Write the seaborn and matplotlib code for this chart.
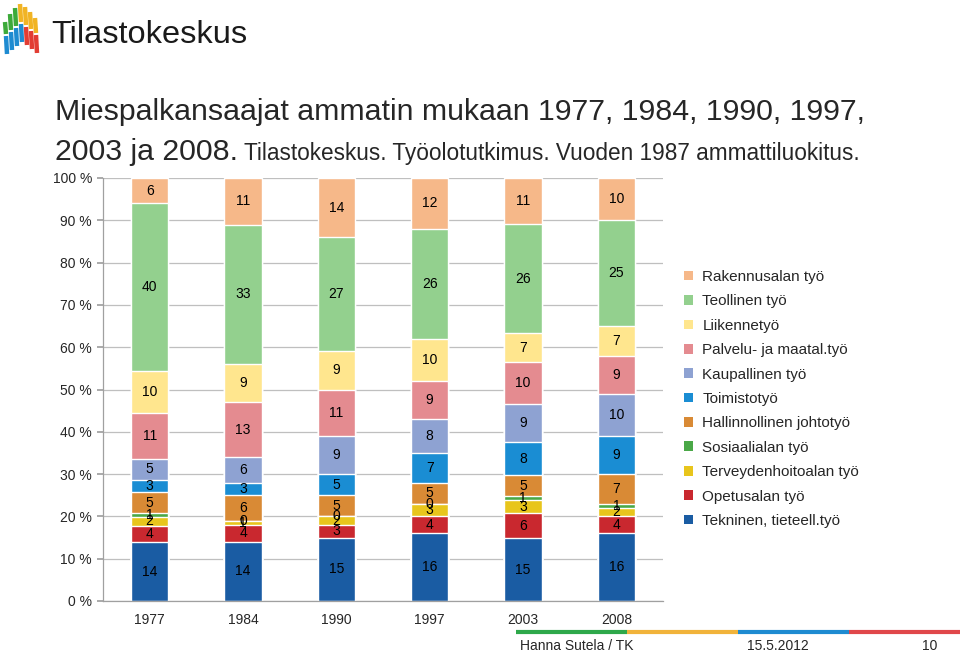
import numpy as np
import pandas as pd
import matplotlib
matplotlib.use("Agg")
import matplotlib.pyplot as plt
from matplotlib.patches import Patch
from matplotlib.lines import Line2D
import seaborn as sns

sns.set_theme(style="white")
plt.rcParams['font.family'] = ['Liberation Sans', 'DejaVu Sans']

# data, bottom of the stack first
years = ["1977", "1984", "1990", "1997", "2003", "2008"]
tekninen      = [14, 14, 15, 16, 15, 16]
opetus        = [4, 4, 3, 4, 6, 4]
terveys       = [2, 1, 2, 3, 3, 2]
sosiaali      = [1, 0, 0, 0, 1, 1]
hallinnollinen = [5, 6, 5, 5, 5, 7]
toimisto      = [3, 3, 5, 7, 8, 9]
kaupallinen   = [5, 6, 9, 8, 9, 10]
palvelu       = [11, 13, 11, 9, 10, 9]
liikenne      = [10, 9, 9, 10, 7, 7]
teollinen     = [40, 33, 27, 26, 26, 25]
rakennus      = [6, 11, 14, 12, 11, 10]

series = [
    ("Tekninen, tieteell.työ", tekninen, "#1A5CA3"),
    ("Opetusalan työ", opetus, "#C9282F"),
    ("Terveydenhoitoalan työ", terveys, "#E8C51C"),
    ("Sosiaalialan työ", sosiaali, "#4AA847"),
    ("Hallinnollinen johtotyö", hallinnollinen, "#D98A35"),
    ("Toimistotyö", toimisto, "#1A8DD3"),
    ("Kaupallinen työ", kaupallinen, "#8EA2D2"),
    ("Palvelu- ja maatal.työ", palvelu, "#E48B90"),
    ("Liikennetyö", liikenne, "#FFE68E"),
    ("Teollinen työ", teollinen, "#93D08E"),
    ("Rakennusalan työ", rakennus, "#F6B889"),
]

vals = np.array([s[1] for s in series], dtype=float)
pct = vals / vals.sum(axis=0) * 100
tops = np.cumsum(pct, axis=0)
bottoms = tops - pct

fig = plt.figure(figsize=(9.6, 6.53), dpi=100)
ax = fig.add_axes([103/960, 52/653, 560/960, 423/653])

# 100 % stacked bars: draw cumulative heights from the top segment down
for i in range(len(series) - 1, -1, -1):
    df = pd.DataFrame({"vuosi": years, "osuus": tops[i]})
    sns.barplot(data=df, x="vuosi", y="osuus", color=series[i][2], width=0.4,
                saturation=1, errorbar=None, ax=ax, zorder=2)

for i, (name, v, c) in enumerate(series):
    for j in range(len(years)):
        ax.text(j, bottoms[i, j] + pct[i, j] / 2, str(v[j]), ha="center", va="center",
                fontsize=10, color="black", zorder=3)

ax.set_xlim(-0.5, 5.5)
ax.set_ylim(0, 100)
ax.set_yticks(range(0, 101, 10))
ax.set_yticklabels([f"{t} %" for t in range(0, 101, 10)], fontsize=10)
ax.set_xlabel("")
ax.set_ylabel("")
ax.yaxis.grid(True, color="#BFBFBF", lw=0.9)
ax.set_axisbelow(True)
for s in ["top", "right"]:
    ax.spines[s].set_visible(False)
for s in ["left", "bottom"]:
    ax.spines[s].set_color("#A0A0A0")
    ax.spines[s].set_linewidth(0.9)
ax.set_xticks(np.arange(-0.5, 6, 1), minor=True)
ax.tick_params(axis="x", which="major", length=0, pad=9, labelsize=10)
ax.tick_params(axis="x", which="minor", length=4, color="#A0A0A0", direction="out")
ax.tick_params(axis="y", length=4, color="#A0A0A0", direction="out", pad=4, left=True)

handles = [Patch(facecolor=c, edgecolor="none") for _, _, c in series][::-1]
labels = [n for n, _, _ in series][::-1]
fig.legend(handles, labels, loc="upper left", bbox_to_anchor=(684/960, 1 - 270/653),
           frameon=False, fontsize=11, handlelength=0.6, handleheight=0.6,
           handletextpad=0.6, labelspacing=0.68, borderpad=0, borderaxespad=0)

# title
fig.text(55/960, 1 - 120/653, "Miespalkansaajat ammatin mukaan 1977, 1984, 1990, 1997,",
         fontsize=21.8, va="baseline", ha="left")
t2 = fig.text(55/960, 1 - 160/653, "2003 ja 2008.", fontsize=21.8, va="baseline", ha="left")
fig.canvas.draw()
bb = t2.get_window_extent()
fig.text(bb.x1 / 960 + 6/960, 1 - 160/653,
         "Tilastokeskus. Työolotutkimus. Vuoden 1987 ammattiluokitus.",
         fontsize=16.3, va="baseline", ha="left")

# logo
logo_cols = [(5, 22, 34, "#3DAA3A", "#1E8BD1"), (10, 14, 30, "#3DAA3A", "#1E8BD1"),
             (15, 8, 26, "#3DAA3A", "#1E8BD1"), (20, 4, 22, "#F1B424", "#1E8BD1"),
             (25, 7, 25, "#F1B424", "#E23D33"), (30, 12, 29, "#F1B424", "#E23D33"),
             (35, 18, 33, "#F1B424", "#E23D33")]
for x, y0, ym, ctop, cbot in logo_cols:
    fig.add_artist(Line2D([x/960, (x+1)/960], [1 - y0/653, 1 - ym/653], color=ctop,
                          lw=3.2, solid_capstyle="butt"))
    fig.add_artist(Line2D([(x+1)/960, (x+2)/960], [1 - (ym+2)/653, 1 - (ym+20)/653],
                          color=cbot, lw=3.2, solid_capstyle="butt"))
fig.text(51/960, 1 - 43/653, "Tilastokeskus", fontsize=23.4, color="#1A1A1A",
         va="baseline", ha="left")

# footer
for k, c in enumerate(["#2EA84A", "#F1B33A", "#1E8BD1", "#E0474A"]):
    fig.add_artist(Line2D([(516 + 111*k)/960, (516 + 111*(k+1))/960],
                          [1 - 632/653, 1 - 632/653], color=c, lw=3,
                          solid_capstyle="butt"))
fig.text(520/960, 1 - 650/653, "Hanna Sutela / TK", fontsize=10, va="baseline")
fig.text(778/960, 1 - 650/653, "15.5.2012", fontsize=10, va="baseline", ha="center")
fig.text(930/960, 1 - 650/653, "10", fontsize=10, va="baseline", ha="center")

fig.savefig("out.png", dpi=100)
